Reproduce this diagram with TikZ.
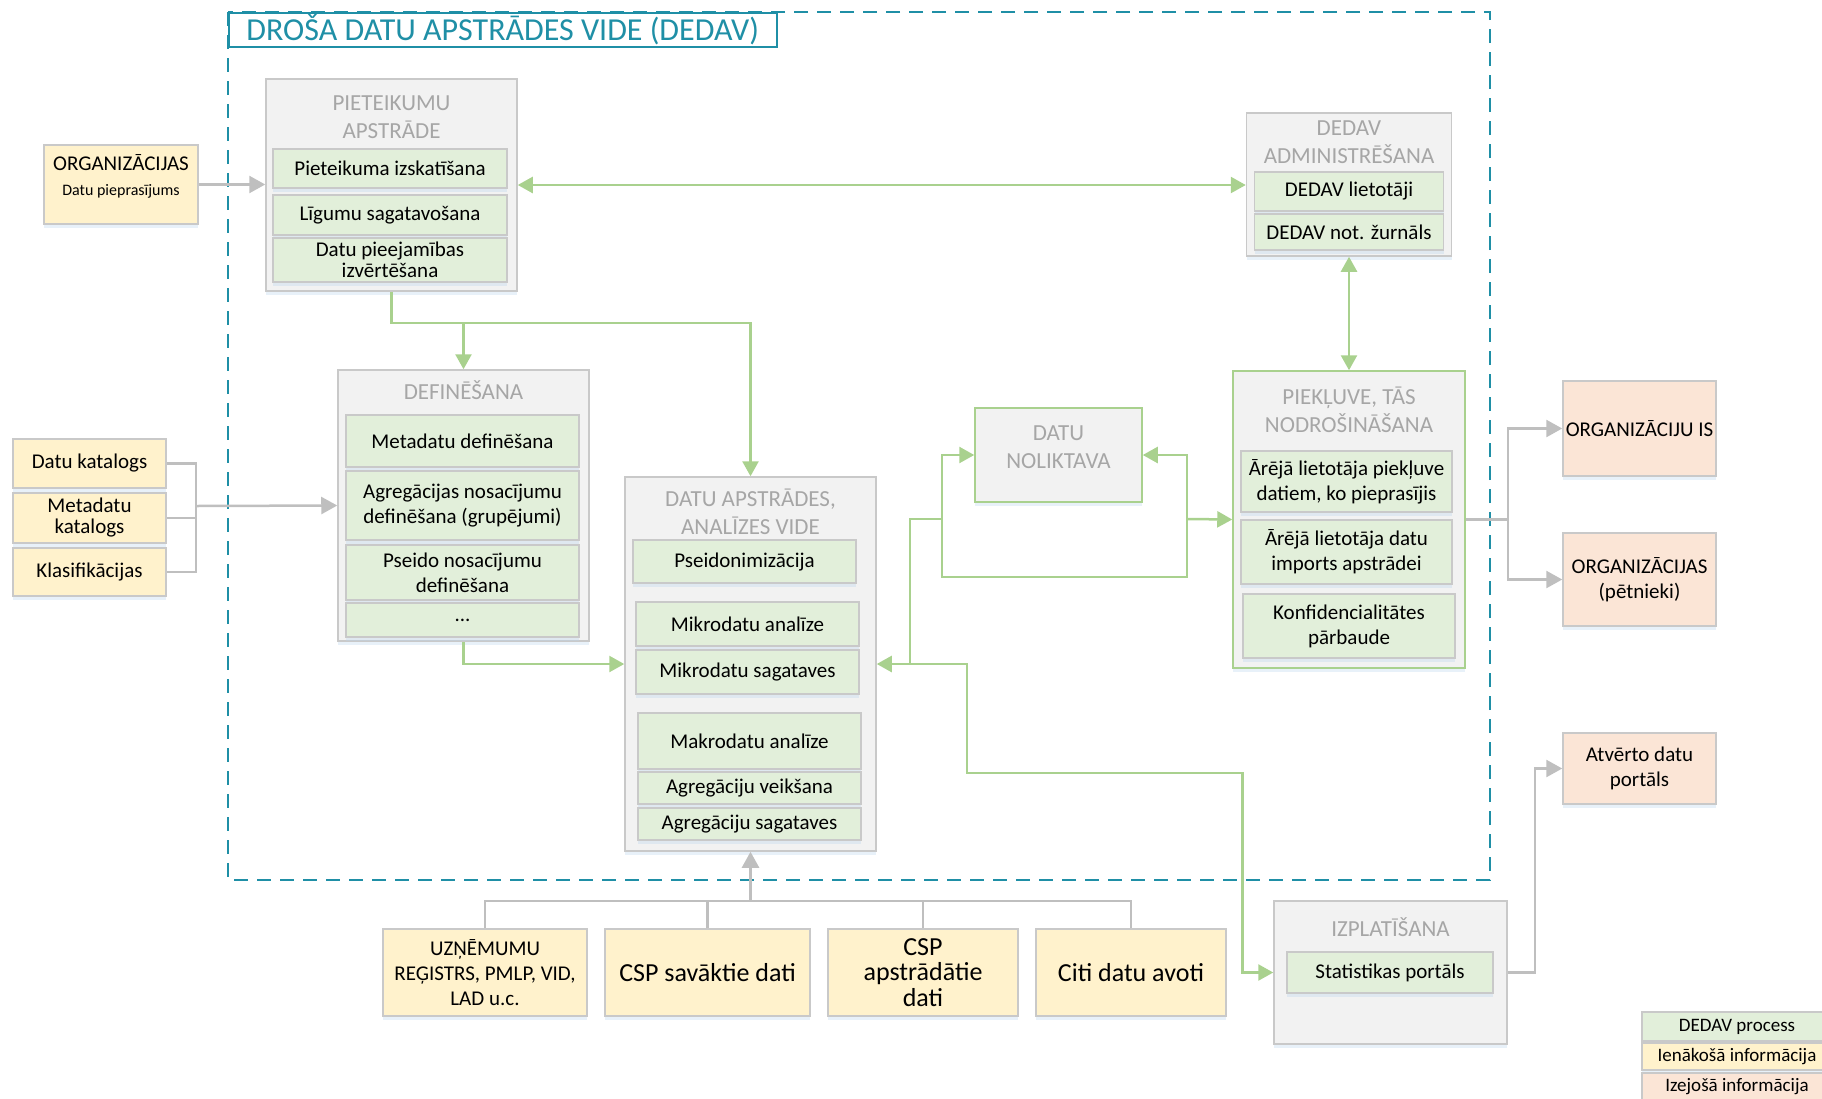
\documentclass[tikz,border=0pt]{standalone}
\usepackage{fontspec}
\setmainfont{Carlito}
\usetikzlibrary{arrows.meta,shadows}

\definecolor{dedavteal}{HTML}{1F8FA6}
\definecolor{procgreen}{HTML}{E2EFDA}
\definecolor{ingoing}{HTML}{FFF2CC}
\definecolor{outgoing}{HTML}{FBE5D6}
\definecolor{grpfill}{HTML}{F2F2F2}
\definecolor{boxline}{HTML}{C9C9C9}
\definecolor{linkgreen}{HTML}{A9D18E}
\definecolor{linkgray}{HTML}{BFBFBF}
\definecolor{titlegray}{HTML}{A6A6A6}
\definecolor{shadowblue}{HTML}{BDD7EE}

\tikzstyle{boxshadow} = [drop shadow={shadow xshift=0pt, shadow yshift=-4pt, opacity=0.35, fill=shadowblue}]
\tikzstyle{groupbox} = [rectangle, draw=boxline, fill=grpfill, line width=1.5pt, boxshadow]
\tikzstyle{store} = [groupbox, draw=linkgreen]
\tikzstyle{grouptitle} = [text=titlegray, align=center, font=\fontsize{23}{28}\selectfont]
\tikzstyle{process} = [rectangle, draw=boxline, fill=procgreen, line width=1.5pt, align=center,
inner sep=2pt, font=\fontsize{21}{25}\selectfont, boxshadow]
\tikzstyle{incoming} = [process, fill=ingoing]
\tikzstyle{outgoingbox} = [process, fill=outgoing]
\tikzstyle{legendbox} = [process, font=\fontsize{19}{22}\selectfont, minimum width=190pt]
\tikzstyle{greenline} = [linkgreen, line width=2.5pt]
\tikzstyle{greenarrow} = [greenline, -{Triangle[length=15pt,width=16pt]}]
\tikzstyle{greenboth} = [greenline, {Triangle[length=15pt,width=16pt]}-{Triangle[length=15pt,width=16pt]}]
\tikzstyle{grayline} = [linkgray, line width=2.5pt]
\tikzstyle{grayarrow} = [grayline, -{Triangle[length=16pt,width=17pt]}]

\begin{document}
\begin{tikzpicture}[x=1pt, y=-1pt]
			\useasboundingbox (0,0) rectangle (1822,1098);
			
			% DEDAV frame
			\draw [dedavteal, line width=2pt, dash pattern=on 14pt off 9pt] (228,12) rectangle (1490,880);
			\node (title) [draw=dedavteal, line width=1.5pt, anchor=north west, minimum width=548pt, minimum height=34pt,
			inner sep=0pt, text=dedavteal, font=\fontsize{32}{34}\selectfont] at (228,12) {DROŠA DATU APSTRĀDES VIDE (DEDAV)};
			
			% groups
			\node (pieteikumi) [groupbox, minimum width=251pt, minimum height=212pt] at (391.5,185) {};
			\node (pieteikumiTitle) [grouptitle] at (391.5,117) {PIETEIKUMU\\APSTRĀDE};
			\node (izskatisana) [process, minimum width=234pt, minimum height=39pt] at (390,168.5) {Pieteikuma izskatīšana};
			\node (ligumi) [process, minimum width=234pt, minimum height=40pt] at (390,215) {Līgumu sagatavošana};
			\node (pieejamiba) [process, minimum width=234pt, minimum height=44pt, font=\fontsize{21}{21}\selectfont] at (390,260) {Datu pieejamības\\izvērtēšana};
			
			\node (admin) [groupbox, minimum width=205pt, minimum height=143pt] at (1349,184.5) {};
			\node (adminTitle) [grouptitle] at (1349,142) {DEDAV\\ADMINISTRĒŠANA};
			\node (lietotaji) [process, minimum width=189pt, minimum height=39pt] at (1349,191.5) {DEDAV lietotāji};
			\node (zurnals) [process, minimum width=189pt, minimum height=36pt] at (1349,232) {DEDAV not. žurnāls};
			
			\node (definesana) [groupbox, minimum width=251pt, minimum height=271pt] at (463.5,505.5) {};
			\node (definesanaTitle) [grouptitle] at (463.5,390) {DEFINĒŠANA};
			\node (metadati) [process, minimum width=233pt, minimum height=52pt] at (462.5,441) {Metadatu definēšana};
			\node (agregacija) [process, minimum width=233pt, minimum height=69pt] at (462.5,505.5) {Agregācijas nosacījumu\\definēšana (grupējumi)};
			\node (pseido) [process, minimum width=233pt, minimum height=55pt] at (462.5,572.5) {Pseido nosacījumu\\definēšana};
			\node (citas) [process, minimum width=233pt, minimum height=34pt] at (462.5,620) {...};
			
			\node (apstrade) [groupbox, minimum width=251pt, minimum height=374pt] at (750.5,664) {};
			\node (apstradeTitle) [grouptitle] at (750.5,512) {DATU APSTRĀDES,\\ANALĪZES VIDE};
			\node (pseidonim) [process, minimum width=223pt, minimum height=43pt] at (744.5,561.5) {Pseidonimizācija};
			\node (mikroAnalize) [process, minimum width=223pt, minimum height=44pt] at (747.5,624) {Mikrodatu analīze};
			\node (mikroSagataves) [process, minimum width=223pt, minimum height=44pt] at (747.5,672) {Mikrodatu sagataves};
			\node (makroAnalize) [process, minimum width=223pt, minimum height=56pt] at (749.5,741) {Makrodatu analīze};
			\node (agrVeiksana) [process, minimum width=223pt, minimum height=32pt] at (749.5,788) {Agregāciju veikšana};
			\node (agrSagataves) [process, minimum width=223pt, minimum height=32pt] at (749.5,824) {Agregāciju sagataves};
			
			\node (noliktava) [store, minimum width=167pt, minimum height=94pt] at (1058.5,455) {};
			\node (noliktavaTitle) [grouptitle] at (1058.5,447.5) {DATU\\NOLIKTAVA};
			
			\node (piekluve) [store, minimum width=232pt, minimum height=297pt] at (1349,519.5) {};
			\node (piekluveTitle) [grouptitle] at (1349,409.5) {PIEKĻUVE, TĀS\\NODROŠINĀŠANA};
			\node (arejaPiekluve) [process, minimum width=211pt, minimum height=61pt] at (1346.5,481.5) {Ārējā lietotāja piekļuve\\datiem, ko pieprasījis};
			\node (arejaImports) [process, minimum width=211pt, minimum height=64pt] at (1346.5,552) {Ārējā lietotāja datu\\imports apstrādei};
			\node (konfid) [process, minimum width=212pt, minimum height=64pt] at (1349,626) {Konfidencialitātes\\pārbaude};
			
			\node (izplatisana) [groupbox, minimum width=233pt, minimum height=143pt] at (1390.5,972.5) {};
			\node (izplatisanaTitle) [grouptitle] at (1390.5,927) {IZPLATĪŠANA};
			\node (statPortals) [process, minimum width=206pt, minimum height=41pt] at (1390,972.5) {Statistikas portāls};
			
			% incoming information
			\node (organizacijas) [incoming, minimum width=154pt, minimum height=79pt, text depth=19pt] at (121,184.5) {ORGANIZĀCIJAS\\{\fontsize{16}{20}\selectfont Datu pieprasījums}};
			\node (datuKatalogs) [incoming, minimum width=153pt, minimum height=49pt] at (89.5,463.5) {Datu katalogs};
			\node (metadatuKatalogs) [incoming, minimum width=153pt, minimum height=50pt, font=\fontsize{21}{21}\selectfont] at (89.5,518) {Metadatu\\katalogs};
			\node (klasifikacijas) [incoming, minimum width=153pt, minimum height=48pt] at (89.5,572) {Klasifikācijas};
			
			\node (registri) [incoming, minimum width=204pt, minimum height=87pt] at (485,972.5) {UZŅĒMUMU\\REĢISTRS, PMLP, VID,\\LAD u.c.};
			\node (cspSavaktie) [incoming, minimum width=205pt, minimum height=87pt, font=\fontsize{26}{25.5}\selectfont] at (707.5,972.5) {CSP savāktie dati};
			\node (cspApstradatie) [incoming, minimum width=190pt, minimum height=87pt, font=\fontsize{26}{25.5}\selectfont] at (923,972.5) {CSP\\apstrādātie\\dati};
			\node (citiAvoti) [incoming, minimum width=190pt, minimum height=87pt, font=\fontsize{26}{25.5}\selectfont] at (1131,972.5) {Citi datu avoti};
			
			% outgoing information
			\node (orgIS) [outgoingbox, minimum width=153pt, minimum height=95pt] at (1639.5,428.5) {ORGANIZĀCIJU IS};
			\node (orgPetnieki) [outgoingbox, minimum width=153pt, minimum height=93pt] at (1639.5,579.5) {ORGANIZĀCIJAS\\(pētnieki)};
			\node (atvertieDati) [outgoingbox, minimum width=153pt, minimum height=71pt] at (1639.5,768.5) {Atvērto datu\\portāls};
			
			% legend
			\node (lgProcess) [legendbox, minimum height=29pt] at (1737,1026.5) {DEDAV process};
			\node (lgIenakosa) [legendbox, fill=ingoing, minimum height=27pt] at (1737,1056.5) {Ienākošā informācija};
			\node (lgIzejosa) [legendbox, fill=outgoing, minimum height=27pt] at (1737,1086.5) {Izejošā informācija};
			
			% junctions
			\coordinate (katalogi) at (196,506);
			\coordinate (avoti) at (750.5,901);
			\coordinate (izvade) at (1508,519.5);
			\coordinate (jApstrade) at (910,664);
			\coordinate (jNoliktavaL) at (942,519);
			\coordinate (jNoliktavaR) at (1187,519);
			
			% green links
			\draw [greenboth] (pieteikumi.east) -- (pieteikumi.east -| admin.west);
			\draw [greenarrow] (pieteikumi.south) -- ++(0,31) -| (apstrade.north);
			\draw [greenarrow] (pieteikumi.south) ++(0,31) -| (definesana.north);
			\draw [greenarrow] (definesana.south) |- (apstrade.west);
			\draw [greenboth] (admin.south) -- (piekluve.north);
			\draw [greenarrow] (jApstrade) -- (apstrade.east);
			\draw [greenline] (jApstrade) |- (jNoliktavaL);
			\draw [greenarrow] (jNoliktavaL) |- (noliktava.west);
			\draw [greenline] (jNoliktavaL) -- ++(0,58) -| (jNoliktavaR);
			\draw [greenarrow] (jNoliktavaR) |- (noliktava.east);
			\draw [greenarrow] (jNoliktavaR) -- (piekluve.west);
			\draw [greenarrow] (jApstrade) -- ++(57,0) -- ++(0,109) -| ([xshift=-31pt]izplatisana.west) -- (izplatisana.west);
			
			% gray links
			\draw [grayarrow] (organizacijas.east) -- (organizacijas.east -| pieteikumi.west);
			\draw [grayline] (datuKatalogs.east) -| (katalogi);
			\draw [grayline] (klasifikacijas.east) -| (katalogi);
			\draw [grayline] (metadatuKatalogs.east) -- (metadatuKatalogs.east -| katalogi);
			\draw [grayarrow] (katalogi) -- (definesana.west);
			\draw [grayline] (registri.north) |- (avoti);
			\draw [grayline] (cspSavaktie.north) |- (avoti);
			\draw [grayline] (cspApstradatie.north) |- (avoti);
			\draw [grayline] (citiAvoti.north) |- (avoti);
			\draw [grayarrow] (avoti) -- (apstrade.south);
			\draw [grayline] (piekluve.east) -- (izvade);
			\draw [grayarrow] (izvade) |- (orgIS.west);
			\draw [grayarrow] (izvade) |- (orgPetnieki.west);
			\draw [grayarrow] (izplatisana.east) -- ++(27,0) |- (atvertieDati.west);
			
		\end{tikzpicture}
\end{document}
